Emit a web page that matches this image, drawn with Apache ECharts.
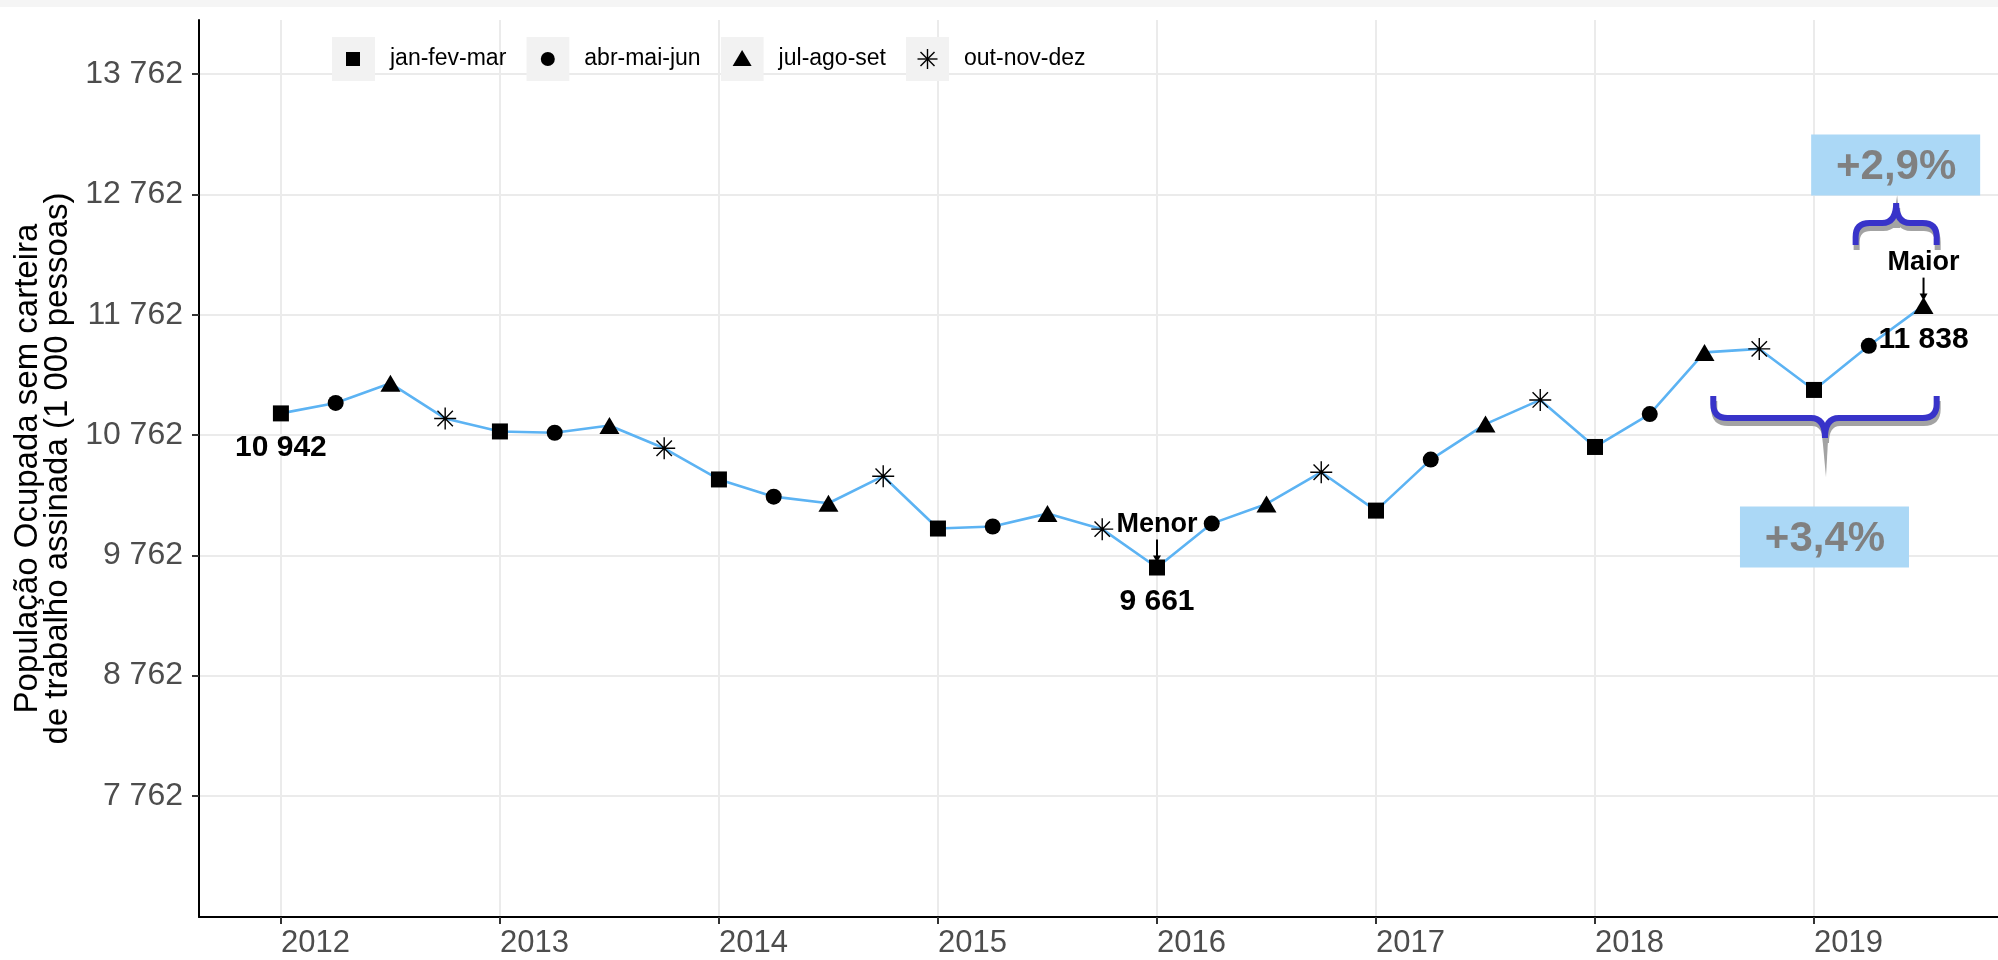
<!DOCTYPE html>
<html>
<head>
<meta charset="utf-8">
<script src="https://cdn.jsdelivr.net/npm/echarts@6/dist/echarts.min.js"></script>
<style>
  html, body { margin: 0; padding: 0; background: #fff; }
  #chart { width: 1998px; height: 960px; }
</style>
</head>
<body>
<div id="chart"></div>
<script>
// anos e trimestres
var anos = [2012, 2013, 2014, 2015, 2016, 2017, 2018, 2019];
var trimestres = ['jan-fev-mar', 'abr-mai-jun', 'jul-ago-set', 'out-nov-dez'];

// populacao ocupada sem carteira (1 000 pessoas), 2012T1 .. 2019T3
var valores = [
  10942, 11029, 11192, 10900,
  10792, 10781, 10842, 10652,
  10393, 10250, 10195, 10420,
  9985, 10002, 10109, 9980,
  9661, 10026, 10189, 10453,
  10134, 10558, 10853, 11054,
  10663, 10936, 11449, 11478,
  11137, 11504, 11838
];

var yTicks = [7762, 8762, 9762, 10762, 11762, 12762, 13762];

// pontos destacados: indice, texto acima
var destaques = [[0, ''], [16, 'Menor'], [30, 'Maior']];

// chaves: x inicio, x fim, nivel das pontas, rotulo
var chaves = [
  [2018.54, 2019.56, 11086, '+3,4%'],
  [2019.19, 2019.56, 12341, '+2,9%']
];

var FONT = '"Liberation Sans", Arial, sans-serif';

function tempo(i) { return anos[0] + i / 4; }
function fmt(v) { return String(Math.round(v)).replace(/\B(?=(\d{3})+(?!\d))/g, ' '); }

var simbolos = [
  'rect',
  'circle',
  'triangle',
  'path://M10,0 L10,20 M0,10 L20,10 M3,3 L17,17 M3,17 L17,3'
];
var tamanhos = [16, 16, [20, 17], 22];

var svgFormas = [
  "<rect x='14' y='15' width='14' height='14' fill='#000'/>",
  "<circle cx='21.5' cy='22' r='7' fill='#000'/>",
  "<polygon points='21.5,13 31,29 12,29' fill='#000'/>",
  "<g stroke='#000' stroke-width='1.4'><line x1='21.5' y1='12' x2='21.5' y2='32'/><line x1='11.5' y1='22' x2='31.5' y2='22'/><line x1='14.5' y1='15' x2='28.5' y2='29'/><line x1='14.5' y1='29' x2='28.5' y2='15'/></g>"
];
function icone(k) {
  var svg = "<svg xmlns='http://www.w3.org/2000/svg' width='53' height='44' viewBox='0 0 53 44'>" +
    "<rect x='0' y='0' width='43' height='44' fill='#f2f2f2'/>" + svgFormas[k] + "</svg>";
  return 'image://data:image/svg+xml;charset=utf-8,' + encodeURIComponent(svg);
}

var linha = valores.map(function (v, i) { return [tempo(i), v]; });

var series = [{
  type: 'line',
  data: linha,
  showSymbol: false,
  silent: true,
  lineStyle: { color: '#5cb3f3', width: 2.6 },
  z: 2
}];

trimestres.forEach(function (nome, k) {
  var pts = [];
  valores.forEach(function (v, i) { if (i % 4 === k) pts.push([tempo(i), v]); });
  series.push({
    type: 'scatter',
    name: nome,
    data: pts,
    symbol: simbolos[k],
    symbolSize: tamanhos[k],
    itemStyle: k === 3
      ? { color: 'rgba(0,0,0,0)', borderColor: '#000', borderWidth: 1.4, opacity: 1 }
      : { color: '#000', opacity: 1 },
    z: 3
  });
});

// rotulos de valor e setas Menor / Maior
series.push({
  type: 'custom',
  silent: true,
  z: 5,
  data: destaques.map(function (d) { return [tempo(d[0]), valores[d[0]]]; }),
  renderItem: function (params, api) {
    var p = api.coord([api.value(0), api.value(1)]);
    var txt = destaques[params.dataIndex][1];
    var kids = [{
      type: 'text',
      style: {
        text: fmt(api.value(1)), x: p[0], y: p[1] + 34,
        align: 'center', verticalAlign: 'middle',
        font: 'bold 30px ' + FONT, fill: '#000'
      }
    }];
    if (txt) {
      kids.push({
        type: 'text',
        style: {
          text: txt, x: p[0], y: p[1] - 43,
          align: 'center', verticalAlign: 'middle',
          font: 'bold 27px ' + FONT, fill: '#000'
        }
      });
      kids.push({
        type: 'line',
        shape: { x1: p[0], y1: p[1] - 28, x2: p[0], y2: p[1] - 9 },
        style: { stroke: '#000', lineWidth: 2 }
      });
      kids.push({
        type: 'polygon',
        shape: { points: [[p[0] - 4, p[1] - 12], [p[0] + 4, p[1] - 12], [p[0], p[1] - 5]] },
        style: { fill: '#000' }
      });
    }
    return { type: 'group', children: kids };
  }
});

// chaves com caixas de variacao
series.push({
  type: 'custom',
  silent: true,
  z: 6,
  data: chaves.map(function (c) { return [c[0], c[1], c[2]]; }),
  renderItem: function (params, api) {
    var a = api.coord([api.value(0), api.value(2)]);
    var b = api.coord([api.value(1), api.value(2)]);
    var d = params.dataIndex === 0 ? 1 : -1; // 1: ponta para baixo
    var xa = a[0], xb = b[0], xc = (xa + xb) / 2, yA = a[1];
    var r = 14;
    function caminho(dx, dy, ponta) {
      var x0 = xa + dx, x1 = xb + dx, xm = xc + dx;
      var y0 = yA + dy, yB = y0 + d * 22, yT = yB + d * ponta;
      return 'M' + x0 + ',' + y0 + ' L' + x0 + ',' + (yB - d * r) +
        ' Q' + x0 + ',' + yB + ' ' + (x0 + r) + ',' + yB +
        ' L' + (xm - r) + ',' + yB +
        ' Q' + xm + ',' + yB + ' ' + xm + ',' + yT +
        ' Q' + xm + ',' + yB + ' ' + (xm + r) + ',' + yB +
        ' L' + (x1 - r) + ',' + yB +
        ' Q' + x1 + ',' + yB + ' ' + x1 + ',' + (yB - d * r) +
        ' L' + x1 + ',' + y0;
    }
    var yBar = yA + d * 22;
    var cauda = d > 0 ? 59 : 28;
    var boxY = d > 0 ? yA + 141 : yA - 80;
    return {
      type: 'group',
      children: [
        { type: 'path', shape: { pathData: caminho(1, 5, 20) },
          style: { stroke: '#a3a3a3', lineWidth: 6, fill: 'none' } },
        { type: 'polygon',
          shape: { points: [[xc - 4, yBar + 5], [xc + 4, yBar + 5], [xc + 1, yBar + d * cauda]] },
          style: { fill: '#a3a3a3' } },
        { type: 'path', shape: { pathData: caminho(0, 0, 20) },
          style: { stroke: '#3833c9', lineWidth: 6, fill: 'none' } },
        { type: 'rect', shape: { x: xc - 85, y: boxY - 30.5, width: 169, height: 61 },
          style: { fill: '#abd8f6' } },
        { type: 'text',
          style: { text: chaves[params.dataIndex][3], x: xc, y: boxY + 2,
            align: 'center', verticalAlign: 'middle',
            font: 'bold 42px ' + FONT, fill: '#808080' } }
      ]
    };
  }
});

var chart = echarts.init(document.getElementById('chart'), null, { renderer: 'canvas' });

chart.setOption({
  backgroundColor: '#ffffff',
  animation: false,
  textStyle: { fontFamily: FONT },
  graphic: [{
    type: 'rect', left: 0, top: 0, silent: true,
    shape: { width: 1998, height: 7 }, style: { fill: '#f5f5f5' }
  }],
  legend: {
    left: 332, top: 37, padding: 0,
    itemWidth: 53, itemHeight: 44, itemGap: 20,
    selectedMode: false,
    textStyle: { fontSize: 23, color: '#000', fontFamily: FONT },
    data: trimestres.map(function (t, k) { return { name: t, icon: icone(k) }; })
  },
  grid: { left: 199, right: 0, top: 20, bottom: 43, containLabel: false, outerBoundsMode: 'none' },
  xAxis: {
    type: 'value',
    min: 2011.626, max: 2019.84,
    axisLine: { show: true, lineStyle: { color: '#000', width: 2 } },
    axisTick: { show: true, length: 7, customValues: anos, lineStyle: { color: '#333', width: 2 } },
    axisLabel: { customValues: anos, align: 'left', margin: 11, fontSize: 31, color: '#4d4d4d', fontFamily: FONT,
      formatter: function (v) { return String(v); } },
    splitLine: { show: true, lineStyle: { color: '#ebebeb', width: 2 } }
  },
  yAxis: {
    type: 'value',
    min: 6756, max: 14212,
    name: 'População Ocupada sem carteira\nde trabalho assinada (1 000 pessoas)',
    nameLocation: 'middle', nameRotate: 90, nameGap: 122,
    nameTextStyle: { fontSize: 33, color: '#000', lineHeight: 30, fontFamily: FONT },
    axisLine: { show: true, lineStyle: { color: '#000', width: 2 } },
    axisTick: { show: true, length: 7, customValues: yTicks, lineStyle: { color: '#333', width: 2 } },
    axisLabel: { customValues: yTicks, margin: 16, fontSize: 32, color: '#4d4d4d', fontFamily: FONT,
      formatter: function (v) { return fmt(v); } },
    splitLine: { show: true, lineStyle: { color: '#ebebeb', width: 2 } }
  },
  series: series
});
</script>
</body>
</html>
